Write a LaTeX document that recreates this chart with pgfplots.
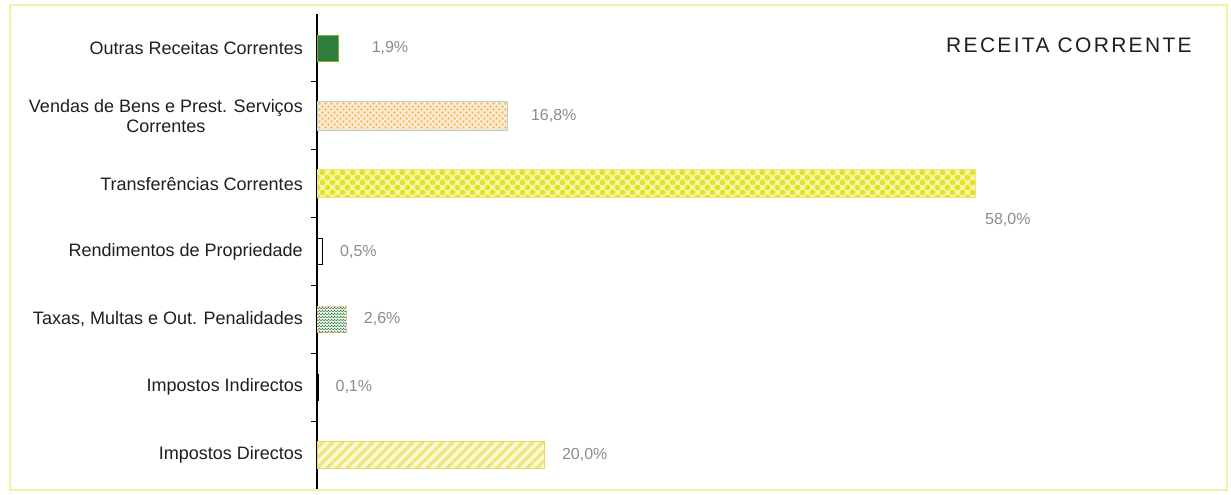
\documentclass[border=0pt]{standalone}
\usepackage{fontspec}
\setmainfont{Liberation Sans}
\newfontfamily\titlefont[LetterSpace=11]{Liberation Sans}
\usepackage{pgfplots}
\pgfplotsset{compat=1.18}
\usetikzlibrary{patterns}

\definecolor{ogreen}{HTML}{2E7D3C}
\definecolor{vgray}{HTML}{8C8C8C}
\definecolor{frameY}{HTML}{F2F2A8}
\definecolor{tyel}{HTML}{F6F6A0}
\definecolor{tyeldk}{HTML}{E2E22A}
\definecolor{vpeach}{HTML}{FCEBD2}
\definecolor{vorange}{HTML}{F0BE68}
\definecolor{vblue}{HTML}{B4CFE2}
\definecolor{dyel}{HTML}{FBF8D6}
\definecolor{dyeldk}{HTML}{EDE67A}

\pgfdeclarepatternformonly{ychecker}{\pgfqpoint{-1pt}{-1pt}}{\pgfqpoint{11pt}{11pt}}{\pgfqpoint{10pt}{10pt}}{%
  \pgfpathcircle{\pgfqpoint{2.5pt}{2.5pt}}{2.8pt}%
  \pgfpathcircle{\pgfqpoint{7.5pt}{7.5pt}}{2.8pt}%
  \pgfusepath{fill}}
\pgfdeclarepatternformonly{vdots}{\pgfqpoint{-1pt}{-1pt}}{\pgfqpoint{7pt}{7pt}}{\pgfqpoint{6pt}{6pt}}{%
  \pgfpathcircle{\pgfqpoint{1.5pt}{1.5pt}}{1.4pt}%
  \pgfpathcircle{\pgfqpoint{4.5pt}{4.5pt}}{1.4pt}%
  \pgfusepath{fill}}
\pgfdeclarepatternformonly{ydiag}{\pgfqpoint{-1pt}{-1pt}}{\pgfqpoint{11pt}{11pt}}{\pgfqpoint{10pt}{10pt}}{%
  \pgfsetlinewidth{3pt}%
  \pgfpathmoveto{\pgfqpoint{-0.5pt}{-0.5pt}}\pgfpathlineto{\pgfqpoint{10.5pt}{10.5pt}}%
  \pgfpathmoveto{\pgfqpoint{-1pt}{9pt}}\pgfpathlineto{\pgfqpoint{1pt}{11pt}}%
  \pgfpathmoveto{\pgfqpoint{9pt}{-1pt}}\pgfpathlineto{\pgfqpoint{11pt}{1pt}}%
  \pgfusepath{stroke}}

\newcommand\lfont{\fontsize{18}{20}\selectfont}
\newcommand\vfont{\fontsize{16}{18}\selectfont}

\begin{document}
\begin{tikzpicture}[x=1pt,y=1pt]
\path[use as bounding box] (0,0) rectangle (1231,495);
\fill[white] (0,0) rectangle (1231,495);
\draw[draw=frameY, line width=2.5pt] (10,5) rectangle (1227,490);
\begin{axis}[
  at={(317pt,6pt)}, anchor=south west, scale only axis,
  width=903pt, height=475pt,
  xmin=0, xmax=79.6, ymin=-0.5, ymax=6.5,
  axis y line*=left, axis x line=none,
  y axis line style={line width=1.6pt, black},
  ytick={0,...,6},
  yticklabels={Impostos Directos, Impostos Indirectos, {Taxas, Multas e Out. Penalidades}, Rendimentos de Propriedade, Transferências Correntes, {Vendas de Bens e Prest. Serviços\\Correntes}, Outras Receitas Correntes},
  yticklabel style={align=center, font=\lfont, text=black!88, inner sep=0pt, xshift=-14pt},
  minor ytick={0.5,1.5,...,5.5},
  major tick length=0pt, minor tick length=6pt, tick align=outside,
  minor tick style={black, line width=0.8pt},
  clip=false,
  point meta=explicit symbolic,
  nodes near coords,
  nodes near coords style={font=\vfont, text=vgray, inner sep=0pt, anchor=west},
]
\addplot[xbar, bar shift=0pt, bar width=26pt, fill=ogreen, draw=ogreen!60!yellow,
  nodes near coords style={xshift=33pt}] coordinates {(1.9,6) [1,9\%]};
\addplot[xbar, bar shift=0pt, bar width=29pt, fill=vpeach, draw=vblue, line width=1pt,
  postaction={pattern=vdots, pattern color=vorange},
  nodes near coords style={xshift=23pt}] coordinates {(16.8,5) [16,8\%]};
\addplot[xbar, bar shift=0pt, bar width=28pt, fill=tyel, draw=tyel!80!orange,
  postaction={pattern=ychecker, pattern color=tyeldk},
  nodes near coords style={anchor=north west, xshift=10pt, yshift=-29pt}] coordinates {(58.0,4) [58,0\%]};
\addplot[xbar, bar shift=0pt, bar width=26pt, fill=white, draw=black, line width=1pt,
  nodes near coords style={xshift=17pt}] coordinates {(0.5,3) [0,5\%]};
\addplot[xbar, bar shift=0pt, bar width=26pt, fill=white, draw=orange!70, dashed, line width=1pt,
  postaction={pattern=crosshatch, pattern color=ogreen},
  nodes near coords style={xshift=17pt}] coordinates {(2.6,2) [2,6\%]};
\addplot[xbar, bar shift=0pt, bar width=26pt, fill=white, draw=black, line width=1pt,
  nodes near coords style={xshift=17pt}] coordinates {(0.1,1) [0,1\%]};
\addplot[xbar, bar shift=0pt, bar width=27pt, fill=dyel, draw=dyeldk!80!orange,
  postaction={pattern=ydiag, pattern color=dyeldk},
  nodes near coords style={xshift=18pt}] coordinates {(20.0,0) [20,0\%]};
\end{axis}
\node[anchor=west, font=\titlefont\fontsize{21}{24}\selectfont, text=black!88, inner sep=0pt] at (946,450) {RECEITA CORRENTE};
\end{tikzpicture}
\end{document}
